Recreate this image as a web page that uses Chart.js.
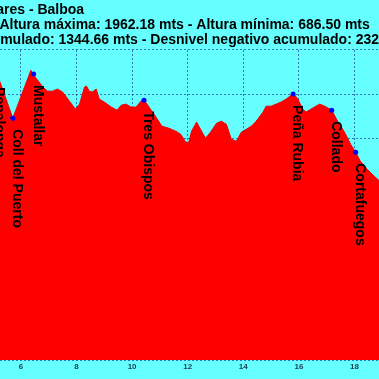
<!DOCTYPE html>
<html lang="es">
<head>
    <meta charset="UTF-8">
    <title>Perfil de altitud</title>
    <style>
        html, body {
            margin: 0;
            padding: 0;
            overflow: hidden;
            background-color: #66ffff; /* cian del fondo */
        }

        #marco {
            position: relative;
            width: 379px;
            height: 379px;
            overflow: hidden;
        }

        /* el gráfico original está recortado: la vista muestra solo una parte */
        #perfil {
            position: absolute;
            left: -143px;
            top: 0;
        }
    </style>
    <script src="https://cdn.jsdelivr.net/npm/chart.js"></script>
</head>

<body>
    <div id="marco">
        <canvas id="perfil" width="724" height="379"></canvas>
    </div>

    <script>
        const titulo = [
            'Ruta: Piornedo - Ancares - Balboa',
            'Distancia: 24.30 km - Altura máxima: 1962.18 mts - Altura mínima: 686.50 mts',
            'Desnivel positivo acumulado: 1344.66 mts - Desnivel negativo acumulado: 2329.50 mts'
        ];

        // perfil: distancia (km) y altura (m)
        const distancias = [5.07, 5.25, 5.71, 6.36, 6.46, 6.79, 6.96, 7.14, 7.32, 7.50,
            7.75, 7.96, 8.11, 8.29, 8.36, 8.46, 8.57, 8.71, 8.82, 9.00,
            9.25, 9.46, 9.61, 9.79, 9.96, 10.14, 10.32, 10.41, 10.61, 10.86,
            11.07, 11.32, 11.57, 11.75, 11.93, 12.04, 12.14, 12.32, 12.46, 12.64,
            12.82, 13.04, 13.21, 13.39, 13.57, 13.75, 13.93, 14.11, 14.29, 14.46,
            14.71, 14.82, 15.00, 15.18, 15.36, 15.54, 15.68, 15.79, 15.96, 16.14,
            16.25, 16.43, 16.61, 16.75, 16.93, 17.18, 17.39, 17.64, 17.86, 18.04,
            18.21, 18.46, 18.71, 19.00];
        const alturas = [1923, 1883, 1638, 1962, 1930, 1849, 1821, 1821, 1835, 1815,
            1753, 1699, 1733, 1849, 1855, 1821, 1815, 1835, 1767, 1747,
            1713, 1692, 1726, 1733, 1713, 1713, 1753, 1767, 1713, 1645,
            1584, 1570, 1550, 1529, 1475, 1475, 1550, 1611, 1563, 1502,
            1543, 1604, 1617, 1597, 1495, 1482, 1543, 1563, 1584, 1617,
            1679, 1719, 1719, 1733, 1747, 1767, 1787, 1808, 1767, 1699,
            1679, 1699, 1719, 1733, 1719, 1692, 1617, 1543, 1461, 1407,
            1346, 1291, 1244, 1195];

        // puntos de paso con nombre
        const puntosNombre = ['Penalonga', 'Coll del Puerto', 'Mustallar', 'Tres Obispos', 'Peña Rubia', 'Collado', 'Cortafuegos'];
        const puntosKm = [5.07, 5.71, 6.46, 10.43, 15.79, 17.18, 18.04];
        const puntosAltura = [1923, 1638, 1937, 1760, 1801, 1692, 1407];

        const ticksKm = [6, 8, 10, 12, 14, 16, 18];
        const ticksAltura = [0, 300, 600, 900, 1200, 1500, 1800, 2100];

        const fuente = 'Arial, "Liberation Sans", sans-serif';
        const colorRejilla = 'rgba(0, 0, 140, 0.55)';

        // nombres girados 90 grados debajo de cada punto
        const etiquetas = {
            id: 'etiquetas',
            afterDraw(chart) {
                const ctx = chart.ctx;
                const x = chart.scales.x;
                const y = chart.scales.y;
                ctx.save();
                ctx.font = 'bold 14px ' + fuente;
                ctx.fillStyle = '#000000';
                ctx.textBaseline = 'alphabetic';
                puntosNombre.forEach((nombre, i) => {
                    const px = x.getPixelForValue(puntosKm[i]);
                    const py = y.getPixelForValue(puntosAltura[i]);
                    ctx.save();
                    ctx.translate(px, py + 11);
                    ctx.rotate(Math.PI / 2);
                    ctx.fillText(nombre, 0, 0);
                    ctx.restore();
                });
                ctx.restore();
            }
        };

        new Chart(document.getElementById('perfil'), {
            type: 'line',
            data: {
                datasets: [{
                    label: 'Puntos',
                    data: puntosKm.map((km, i) => ({ x: km, y: puntosAltura[i] })),
                    showLine: false,
                    pointRadius: 2.5,
                    pointBackgroundColor: '#0000ff',
                    pointBorderWidth: 0,
                    order: 0
                }, {
                    label: 'Altura',
                    data: distancias.map((km, i) => ({ x: km, y: alturas[i] })),
                    fill: 'origin',
                    backgroundColor: '#ff0000',
                    borderColor: '#f00000',
                    borderWidth: 1,
                    pointRadius: 0,
                    tension: 0,
                    order: 1
                }]
            },
            options: {
                responsive: false,
                animation: false,
                layout: { padding: 0 },
                plugins: {
                    legend: { display: false },
                    tooltip: { enabled: false },
                    title: {
                        display: true,
                        text: titulo,
                        align: 'start',
                        color: '#000000',
                        font: { family: fuente, size: 14, weight: 'bold', lineHeight: 1.07 },
                        padding: { top: 3, bottom: 2 }
                    }
                },
                scales: {
                    x: {
                        type: 'linear',
                        min: 5.25,
                        max: 26,
                        z: 1,
                        afterBuildTicks: s => { s.ticks = ticksKm.map(v => ({ value: v })); },
                        afterFit: s => { s.height = 19; },
                        grid: { color: colorRejilla, drawTicks: false },
                        border: { display: false, dash: [2, 2] },
                        ticks: {
                            color: '#1b3b4f',
                            padding: 2,
                            maxRotation: 0,
                            font: { family: fuente, size: 8, weight: 'bold' }
                        }
                    },
                    y: {
                        min: 0,
                        max: 2100,
                        z: 1,
                        afterBuildTicks: s => { s.ticks = ticksAltura.map(v => ({ value: v })); },
                        afterFit: s => { s.width = 143; },
                        grid: { color: colorRejilla, drawTicks: false },
                        border: { display: false, dash: [2, 2] },
                        ticks: { display: false }
                    }
                }
            },
            plugins: [etiquetas]
        });
    </script>
</body>

</html>
